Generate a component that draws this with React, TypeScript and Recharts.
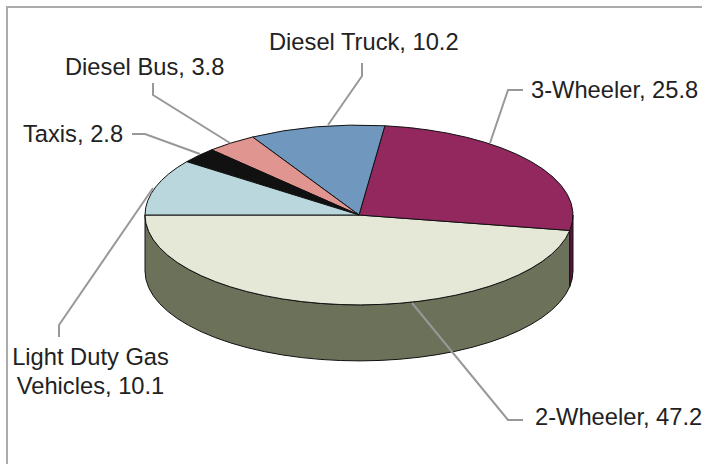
import React from "react";
import { PieChart, Pie, Cell } from "recharts";

const categories = ["2-Wheeler", "3-Wheeler", "Diesel Truck", "Diesel Bus", "Taxis", "Light Duty Gas Vehicles"];
const shares = [47.2, 25.8, 10.2, 3.8, 2.8, 10.1];
const topColors = ["#E5E8D7", "#93285F", "#7098BF", "#E09590", "#111111", "#B9D7DD"];
const sideColors = ["#6C7259", "#5E1440", "#48627C", "#91605D", "#0B0B0B", "#78898E"];

const data = categories.map((name, i) => ({ name, value: shares[i] }));

// Annotation layout: text rows and leader polyline for each slice.
const labelLayout = [
  { rows: [{ x: 535, y: 425 }], anchor: "start", line: "523,420 508,420 412,303" },
  { rows: [{ x: 531, y: 98 }], anchor: "start", line: "523,90 508,90 490,143" },
  { rows: [{ x: 269, y: 50 }], anchor: "start", line: "362,63 362,76 328,125" },
  { rows: [{ x: 65, y: 75 }], anchor: "start", line: "153,83 153,95 230,143" },
  { rows: [{ x: 23, y: 142 }], anchor: "start", line: "132,134 145,134 200,154" },
  { rows: [{ x: 90.5, y: 365 }, { x: 90.5, y: 394 }], anchor: "middle", line: "59,337 59,325 153,188" },
];

const TILT = 0.42;
const DEPTH = 56;
const rad = (a: number) => (a * Math.PI) / 180;

function Slab(props: any) {
  const { cx, cy, outerRadius: rx, startAngle, endAngle, index } = props;
  const a = Math.min(startAngle, endAngle);
  const b = Math.max(startAngle, endAngle);
  const ry = rx * TILT;
  const pt = (t: number, dy = 0) => [cx + rx * Math.cos(rad(t)), cy - ry * Math.sin(rad(t)) + dy];
  const [x0, y0] = pt(a);
  const [x1, y1] = pt(b);
  const large = b - a > 180 ? 1 : 0;
  const top = `M${cx},${cy} L${x0},${y0} A${rx},${ry} 0 ${large} 0 ${x1},${y1} Z`;
  const s0 = Math.max(a, 180);
  const s1 = Math.min(b, 360);
  let side = "";
  if (s1 > s0) {
    const [p0x, p0y] = pt(s0);
    const [p1x, p1y] = pt(s1);
    const [q0x, q0y] = pt(s0, DEPTH);
    const [q1x, q1y] = pt(s1, DEPTH);
    side = `M${p0x},${p0y} A${rx},${ry} 0 0 0 ${p1x},${p1y} L${q1x},${q1y} A${rx},${ry} 0 0 1 ${q0x},${q0y} Z`;
  }
  return (
    <g>
      {side && <path d={side} fill={sideColors[index]} stroke="#111111" strokeWidth={1} />}
      <path d={top} fill={topColors[index]} stroke="#111111" strokeWidth={1} strokeLinejoin="round" />
    </g>
  );
}

function SliceLabel(props: any) {
  const { index, name, value } = props;
  const layout = labelLayout[index];
  const words = layout.rows.length > 1 ? ["Light Duty Gas", `Vehicles, ${value}`] : [`${name}, ${value}`];
  return (
    <g>
      <polyline points={layout.line} fill="none" stroke="#989898" strokeWidth={2} />
      {layout.rows.map((r, i) => (
        <text key={i} x={r.x} y={r.y} textAnchor={layout.anchor as any} fontFamily="'Liberation Sans', Arial, sans-serif" fontSize={23.7} fill="#222222">
          {words[i]}
        </text>
      ))}
    </g>
  );
}

export default function App() {
  return (
    <div style={{ position: "absolute", left: 0, top: 0, width: 702, height: 464, overflow: "hidden", background: "#fff" }}>
      <div style={{ position: "absolute", left: 6, top: 6, width: 720, height: 480, border: "2px solid #ABABAB", boxSizing: "border-box" }} />
      <div style={{ position: "absolute", left: 0, top: 0 }}>
        <PieChart width={702} height={464} margin={{ top: 0, right: 0, bottom: 0, left: 0 }}>
          <Pie
            data={data}
            dataKey="value"
            nameKey="name"
            cx={359}
            cy={215}
            innerRadius={0}
            outerRadius={214}
            startAngle={180}
            endAngle={540}
            paddingAngle={0}
            stroke="none"
            isAnimationActive={false}
            shape={Slab}
            label={SliceLabel}
            labelLine={false}
          >
            {data.map((d, i) => (
              <Cell key={d.name} fill={topColors[i]} />
            ))}
          </Pie>
        </PieChart>
      </div>
    </div>
  );
}
